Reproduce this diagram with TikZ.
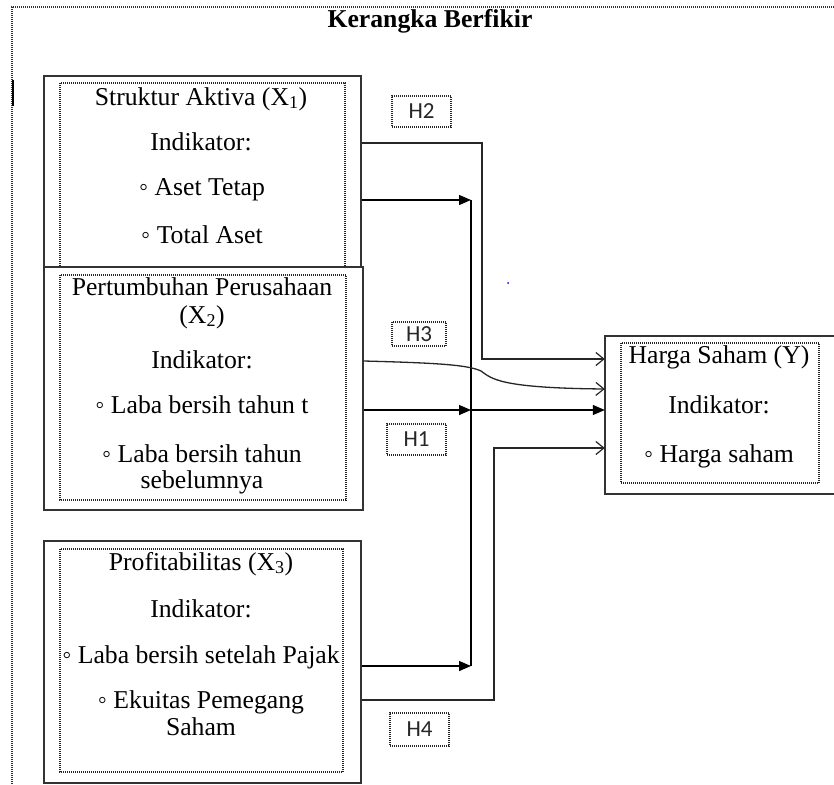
\documentclass[tikz,border=0pt]{standalone}
\usepackage{fontspec}
\setmainfont{Liberation Serif}
\newfontfamily\hfont{Carlito}
\usetikzlibrary{arrows.meta}
\tikzset{
  txt/.style={anchor=base, inner sep=0pt, font=\fontsize{25.7pt}{30pt}\selectfont},
  ttl/.style={anchor=base, inner sep=0pt, font=\fontsize{25.7pt}{30pt}\selectfont\bfseries},
  outerbox/.style={draw=black!80, line width=1.5pt, inner sep=0pt},
  innerdot/.style={draw=black!85, line width=1.2pt, dash pattern=on 1pt off 1pt},
  hbox/.style={draw=black!85, line width=1.2pt, dash pattern=on 1pt off 1pt, inner sep=0pt, font=\hfont\fontsize{23pt}{26pt}\selectfont, text=black!85},
  conn/.style={black!85, line width=1.3pt},
  openarr/.style={conn, -{Straight Barb[length=8pt,width=13pt,line width=1.2pt]}},
  fillarr/.style={conn, black, -{Triangle[length=12pt,width=10pt]}}
}
\begin{document}
\begin{tikzpicture}[x=1pt,y=-1pt]
\useasboundingbox (0,0) rectangle (834,784);
% outer frame
\draw[black!80, line width=1.2pt, dash pattern=on 1pt off 1pt] (12,800) -- (12,7) -- (834,7);
\draw[black, line width=2pt] (13,80) -- (13,106);
\node[ttl] (title) at (430,28) {Kerangka Berfikir};

% boxes
\node[outerbox, minimum width=317pt, minimum height=192pt] (x1) at (202.5,172) {};
\draw[innerdot] (60,83) rectangle (345,267);
\node[outerbox, fill=white, minimum width=319pt, minimum height=243pt] (x2) at (203.5,388.5) {};
\draw[innerdot] (60,275) rectangle (346,500);
\node[outerbox, minimum width=317pt, minimum height=242pt] (x3) at (202.5,662) {};
\draw[innerdot] (60,549) rectangle (343,772);
\node[inner sep=0pt, minimum width=235pt, minimum height=158pt] (y) at (722.5,415) {};
\draw[black!80, line width=1.5pt] (y.north east) -- (y.north west) -- (y.south west) -- (y.south east);
\draw[innerdot] (621,343) rectangle (819,483);

% texts X1
\node[txt] (x1a) at (201,105) {Struktur Aktiva (X\textsubscript{1})};
\node[txt] (x1b) at (201,150) {Indikator:};
\node[txt] (x1c) at (202,195) {◦ Aset Tetap};
\node[txt] (x1d) at (202,243) {◦ Total Aset};
% texts X2
\node[txt] (x2a) at (202,295) {Pertumbuhan Perusahaan};
\node[txt] (x2b) at (202,323) {(X\textsubscript{2})};
\node[txt] (x2c) at (202,368) {Indikator:};
\node[txt] (x2d) at (202,413) {◦ Laba bersih tahun t};
\node[txt] (x2e) at (202,462) {◦ Laba bersih tahun};
\node[txt] (x2f) at (202,488) {sebelumnya};
% texts X3
\node[txt] (x3a) at (201,570) {Profitabilitas (X\textsubscript{3})};
\node[txt] (x3b) at (201,617) {Indikator:};
\node[txt] (x3c) at (201,663) {◦ Laba bersih setelah Pajak};
\node[txt] (x3d) at (201,708) {◦ Ekuitas Pemegang};
\node[txt] (x3e) at (201,735) {Saham};
% texts Y
\node[txt] (ya) at (719,363) {Harga Saham (Y)};
\node[txt] (yb) at (719,413) {Indikator:};
\node[txt] (yc) at (719,462) {◦ Harga saham};

% hypothesis labels
\node[hbox, minimum width=59pt, minimum height=31pt] (h2) at (421.5,111.5) {H2};
\node[hbox, minimum width=54pt, minimum height=24pt] (h3) at (419,334) {H3};
\node[hbox, minimum width=59pt, minimum height=31pt] (h1) at (416.5,439.5) {H1};
\node[hbox, minimum width=59pt, minimum height=33pt] (h4) at (419.5,729.5) {H4};

% connectors
\coordinate (jA) at (471,200);
\coordinate (jB) at (471,410);
\coordinate (jC) at (471,666);
\draw[openarr] (x1.east |- 0,143) -- (482,143) -- (482,359) -- (y.west |- 0,359);
\draw[fillarr] (x1.east |- jA) -- (jA);
\draw[conn, black] (jA) -- (jC);
\draw[fillarr] (x2.east |- jB) -- (jB);
\draw[fillarr] (x3.east |- jC) -- (jC);
\draw[fillarr] (jB) -- (y.west |- jB);
\draw[openarr] (x2.east |- 0,361) .. controls (440,363) and (468,365) .. (481,371)
  .. controls (492,379) and (500,388) .. (y.west |- 0,389);
\draw[openarr] (x3.east |- 0,700) -- (494,700) -- (494,448) -- (y.west |- 0,448);
\fill[blue] (508,283) circle (1pt);
\end{tikzpicture}
\end{document}
